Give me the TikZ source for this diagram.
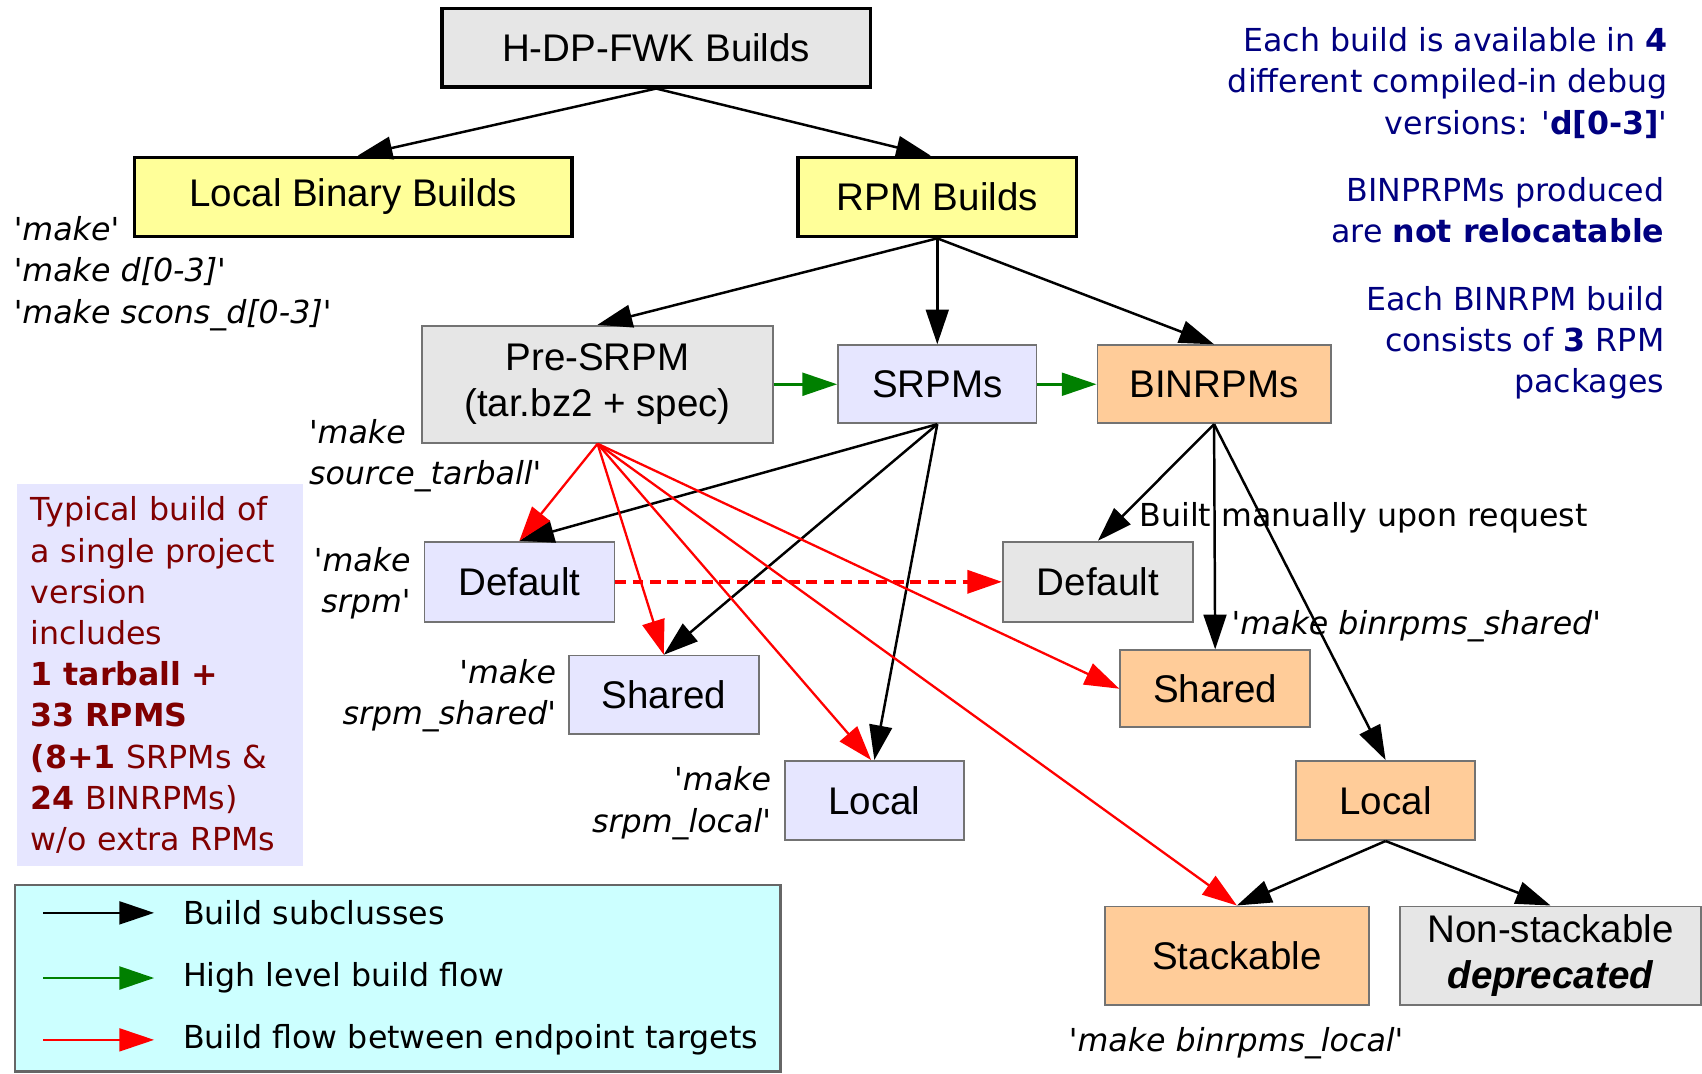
\documentclass[tikz,border=0pt]{standalone}
\usepackage{fontspec}
\usepackage{tikz}
\usetikzlibrary{calc,positioning,arrows.meta}
\usepackage{xcolor}

\newfontfamily\boxfont{Liberation Sans}
\newfontfamily\notefont{DejaVu Sans}

\definecolor{boxgray}{HTML}{E6E6E6}
\definecolor{boxyellow}{HTML}{FFFF99}
\definecolor{boxlilac}{HTML}{E6E6FF}
\definecolor{boxorange}{HTML}{FFCC99}
\definecolor{legendcyan}{HTML}{CCFFFF}
\definecolor{notenavy}{HTML}{000080}
\definecolor{notemaroon}{HTML}{800000}
\definecolor{flowgreen}{HTML}{008000}

\begin{document}
\begin{tikzpicture}[
        x=0.1mm, y=-0.1mm,
        >={Triangle[length=3.2mm,width=2.1mm]},
        box/.style={
            rectangle,
            draw=black!55,
            line width=0.45pt,
            inner sep=0pt,
            align=center,
            font=\boxfont\fontsize{10.1}{12}\selectfont
        },
        mainbox/.style={
            box,
            draw=black,
            line width=0.9pt
        },
        graybox/.style={box, fill=boxgray},
        lilacbox/.style={box, fill=boxlilac},
        orangebox/.style={box, fill=boxorange},
        note/.style={
            inner sep=0pt,
            font=\notefont\fontsize{8.3}{10.8}\selectfont
        },
        cmd/.style={
            inner sep=0pt,
            font=\notefont\itshape\fontsize{8.3}{10.8}\selectfont
        },
        bluenote/.style={
            note,
            text=notenavy,
            anchor=east,
            align=right
        },
        subarrow/.style={
            ->,
            line width=0.65pt,
            black
        },
        flowarrow/.style={
            ->,
            line width=0.75pt,
            flowgreen
        },
        targetarrow/.style={
            ->,
            line width=0.6pt,
            red
        }
    ]
    \useasboundingbox (0,0) rectangle (1568,989);

    % Top level
    \node[mainbox, fill=boxgray, minimum width=39.5mm, minimum height=7.2mm] (fwk)
        at (604.5,44) {H-DP-FWK Builds};
    \node[mainbox, fill=boxyellow, minimum width=40.3mm, minimum height=7.3mm] (local)
        at (325.5,181.5) {Local Binary Builds};
    \node[mainbox, fill=boxyellow, minimum width=25.7mm, minimum height=7.3mm] (rpm)
        at (863.5,181.5) {RPM Builds};

    % RPM stages
    \node[graybox, minimum width=32.3mm, minimum height=10.8mm] (presrpm)
        at (550.5,354) {Pre-SRPM\\(tar.bz2 + spec)};
    \node[lilacbox, minimum width=18.3mm, minimum height=7.2mm] (srpms)
        at (863.5,354) {SRPMs};
    \node[orangebox, minimum width=21.5mm, minimum height=7.2mm] (binrpms)
        at (1118.5,354) {BINRPMs};

    % SRPM targets
    \node[lilacbox, minimum width=17.5mm, minimum height=7.4mm] (srpmdef)
        at (478.5,536) {Default};
    \node[lilacbox, minimum width=17.5mm, minimum height=7.2mm] (srpmshared)
        at (611.5,640) {Shared};
    \node[lilacbox, minimum width=16.5mm, minimum height=7.3mm] (srpmlocal)
        at (805.5,737.5) {Local};

    % BINRPM targets
    \node[graybox, minimum width=17.5mm, minimum height=7.4mm] (bindef)
        at (1011.5,536) {Default};
    \node[orangebox, minimum width=17.5mm, minimum height=7.1mm] (binshared)
        at (1119.5,634.5) {Shared};
    \node[orangebox, minimum width=16.5mm, minimum height=7.3mm] (binlocal)
        at (1276.5,737.5) {Local};
    \node[orangebox, minimum width=24.3mm, minimum height=9.1mm] (stackable)
        at (1139.5,880.5) {Stackable};
    \node[graybox, minimum width=27.7mm, minimum height=9.1mm] (nonstack)
        at (1428.5,880.5) {Non-stackable\\\textbf{\textit{deprecated}}};

    % make targets
    \node[cmd, anchor=west, align=left] (makelocal)
        at (12,252) {'make'\\'make d[0-3]'\\'make scons\_d[0-3]'};
    \node[cmd, anchor=west, align=left] (maketarball)
        at (284,419.5) {'make\\source\_tarball'};
    \node[cmd, anchor=east, align=right] (makesrpm)
        at (379,537.5) {'make\\srpm'};
    \node[cmd, anchor=east, align=right] (makesrpmshared)
        at (513,641) {'make\\srpm\_shared'};
    \node[cmd, anchor=east, align=right] (makesrpmlocal)
        at (711,740) {'make\\srpm\_local'};
    \node[note, anchor=west] (manual)
        at (1049,477) {Built manually upon request};
    \node[cmd, anchor=west] (makebinshared)
        at (1134,577) {'make binrpms\_shared'};
    \node[cmd, anchor=west] (makebinlocal)
        at (984,961) {'make binrpms\_local'};

    % Notes
    \node[bluenote] (debugnote) at (1537,76.5)
        {Each build is available in \textbf{4}\\different compiled-in debug\\versions: '\textbf{d[0-3]}'};
    \node[bluenote] (relocnote) at (1534,193.5)
        {BINPRPMs produced\\are \textbf{not relocatable}};
    \node[bluenote] (pkgnote) at (1534,316)
        {Each BINRPM build\\consists of \textbf{3} RPM\\packages};

    % Summary box
    \node[note, fill=boxlilac, text=notemaroon, align=left, text width=23.8mm,
        minimum width=26.3mm, minimum height=35.2mm] (summary) at (147.5,622)
        {Typical build of\\a single project\\version\\includes\\\textbf{1 tarball +}\\\textbf{33 RPMS}\\\textbf{(8+1} SRPMs \&\\\textbf{24} BINRPMs)\\w/o extra RPMs};

    % Legend
    \node[draw=black!60, line width=0.6pt, fill=legendcyan, minimum width=70.5mm,
        minimum height=17.2mm] (legend) at (366.5,901) {};
    \node[note, anchor=west] (lgsub) at (168,841) {Build subclusses};
    \node[note, anchor=west] (lgflow) at (168,901) {High level build flow};
    \node[note, anchor=west] (lgtarget) at (168,958) {Build flow between endpoint targets};
    \draw[subarrow] ([xshift=-12.8mm]lgsub.west) -- ([xshift=-2.6mm]lgsub.west);
    \draw[flowarrow] ([xshift=-12.8mm]lgflow.west) -- ([xshift=-2.6mm]lgflow.west);
    \draw[targetarrow] ([xshift=-12.8mm]lgtarget.west) -- ([xshift=-2.6mm]lgtarget.west);

    % Arrows: top level
    \draw[subarrow] (fwk.south) -- ([xshift=0.4mm]local.north);
    \draw[subarrow] (fwk.south) -- ([xshift=-0.6mm]rpm.north);

    % Arrows: RPM Builds -> stages
    \draw[subarrow] (rpm.south) -- (presrpm.north);
    \draw[subarrow] (rpm.south) -- (srpms.north);
    \draw[subarrow] (rpm.south) -- (binrpms.north);

    % Arrows: high level flow
    \draw[flowarrow] (presrpm) -- (srpms);
    \draw[flowarrow] (srpms) -- (binrpms);

    % Arrows: SRPMs -> SRPM targets
    \draw[subarrow] (srpms.south) -- (srpmdef.north);
    \draw[subarrow] (srpms.south) -- (srpmshared.north);
    \draw[subarrow] (srpms.south) -- (srpmlocal.north);

    % Arrows: Pre-SRPM -> endpoint targets
    \draw[targetarrow] (presrpm.south) -- (srpmdef.north);
    \draw[targetarrow] (presrpm.south) -- (srpmshared.north);
    \draw[targetarrow] (presrpm.south) -- ([xshift=-0.3mm]srpmlocal.north);
    \draw[targetarrow] (presrpm.south) -- (binshared.west);
    \draw[targetarrow] (presrpm.south) -- (stackable.north);
    \draw[targetarrow, line width=1.1pt, dash pattern=on 1mm off 0.6mm] (srpmdef) -- (bindef);

    % Arrows: BINRPMs -> BINRPM targets
    \draw[subarrow] (binrpms.south) -- (bindef.north);
    \draw[subarrow] (binrpms.south) -- (binshared.north);
    \draw[subarrow] (binrpms.south) -- (binlocal.north);
    \draw[subarrow] (binlocal.south) -- (stackable.north);
    \draw[subarrow] (binlocal.south) -- (nonstack.north);

\end{tikzpicture}
\end{document}
